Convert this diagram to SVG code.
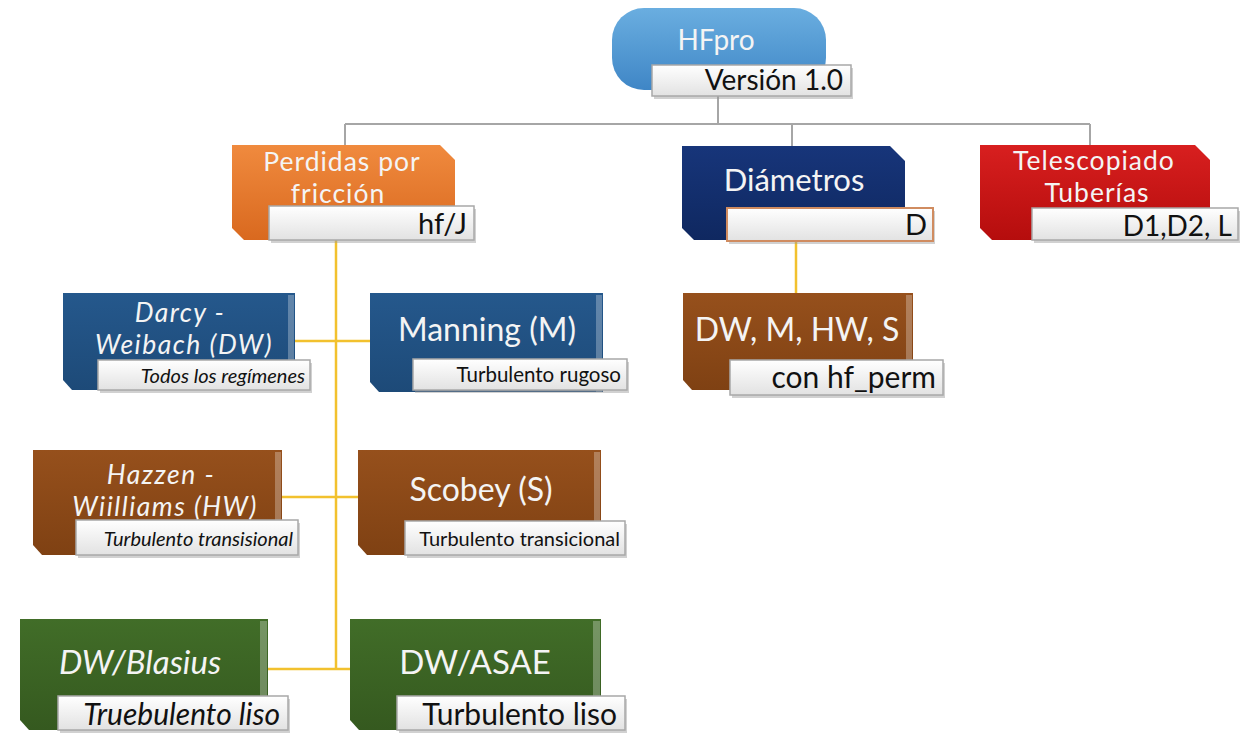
<svg xmlns="http://www.w3.org/2000/svg" width="1243" height="736" viewBox="0 0 1243 736">
<defs>
<linearGradient id="gBlueL" x1="0" y1="0" x2="0" y2="1"><stop offset="0" stop-color="#6aaee0"/><stop offset="1" stop-color="#3f86c6"/></linearGradient>
<linearGradient id="gOrange" x1="0" y1="0" x2="0" y2="1"><stop offset="0" stop-color="#f08a3e"/><stop offset="1" stop-color="#d9691f"/></linearGradient>
<linearGradient id="gNavy" x1="0" y1="0" x2="0" y2="1"><stop offset="0" stop-color="#17357a"/><stop offset="1" stop-color="#0f2860"/></linearGradient>
<linearGradient id="gRed" x1="0" y1="0" x2="0" y2="1"><stop offset="0" stop-color="#d81f1f"/><stop offset="1" stop-color="#b50d0d"/></linearGradient>
<linearGradient id="gBlue" x1="0" y1="0" x2="0" y2="1"><stop offset="0" stop-color="#25588c"/><stop offset="1" stop-color="#1d4a78"/></linearGradient>
<linearGradient id="gBrown" x1="0" y1="0" x2="0" y2="1"><stop offset="0" stop-color="#96501c"/><stop offset="1" stop-color="#7f4113"/></linearGradient>
<linearGradient id="gGreen" x1="0" y1="0" x2="0" y2="1"><stop offset="0" stop-color="#416d28"/><stop offset="1" stop-color="#35591f"/></linearGradient>
<linearGradient id="gLabel" x1="0" y1="0" x2="0" y2="1"><stop offset="0" stop-color="#ffffff"/><stop offset="1" stop-color="#e2e2e2"/></linearGradient>
</defs>
<style>
.lab{fill:url(#gLabel);stroke:#a8a8a8;stroke-width:1.5}
.sh{fill:#9a9a9a;opacity:0.45}
.edge{fill:#ffffff;opacity:0.28}
.t{font-family:Lato,"Open Sans",sans-serif;fill:#f4f4f4;text-anchor:middle}
.s{font-family:Lato,"Open Sans",sans-serif;fill:#111111;text-anchor:end}
.it{font-style:italic}
.grey{stroke:#a6a6a6;stroke-width:2;fill:none}
.yel{stroke:#f2c12e;stroke-width:2.5;fill:none}
</style>
<rect width="1243" height="736" fill="#ffffff"/>
<g id="connectors">
<path class="grey" d="M718 96 V124 M345 124 H1090 M345 124 V146 M792 124 V146 M1090 124 V146"/>
<path class="yel" d="M336 240 V670 M290 341 H372 M282 497 H360 M268 669 H350 M796 241 V293"/>
</g>
<g id="hfpro">
<rect x="612" y="8" width="214" height="82" rx="32" fill="url(#gBlueL)"/>
<text class="t" x="716" y="50" font-size="28">HFpro</text>
<rect class="sh" x="654" y="68" width="199" height="31"/>
<rect class="lab" x="652" y="65" width="199" height="31"/>
<text class="s" x="843" y="90" font-size="28">Versión 1.0</text>
</g>
<g id="perdidas">
<path d="M232 145 H440 L455 160 V240 H244 L232 228 Z" fill="url(#gOrange)"/>
<text class="t" x="342" y="171" font-size="26.5" letter-spacing="1">Perdidas por</text>
<text class="t" x="338" y="203" font-size="26.5" letter-spacing="1">fricción</text>
<rect class="sh" x="271" y="209" width="205" height="34"/>
<rect class="lab" x="269" y="206" width="205" height="34"/>
<text class="s" x="467" y="234" font-size="29">hf/J</text>
</g>
<g id="diametros">
<path d="M682 146 H890 L905 161 V240 H694 L682 228 Z" fill="url(#gNavy)"/>
<text class="t" x="794" y="191" font-size="31">Diámetros</text>
<rect class="sh" x="729" y="211" width="206" height="33"/>
<rect x="727" y="208" width="206" height="33" fill="url(#gLabel)" stroke="#d08c60" stroke-width="2"/>
<text class="s" x="927" y="235" font-size="29">D</text>
</g>
<g id="telescopiado">
<path d="M980 145 H1195 L1210 160 V240 H992 L980 228 Z" fill="url(#gRed)"/>
<text class="t" x="1094" y="170" font-size="26.5" letter-spacing="1">Telescopiado</text>
<text class="t" x="1097" y="202" font-size="26.5" letter-spacing="1">Tuberías</text>
<rect class="sh" x="1034" y="211" width="206" height="32"/>
<rect class="lab" x="1032" y="208" width="206" height="32"/>
<text class="s" x="1232" y="236" font-size="28">D1,D2, L</text>
</g>
<g id="darcy">
<path d="M63 293 H295 V390 H72 L63 380 Z" fill="url(#gBlue)"/>
<rect class="edge" x="288" y="295" width="6" height="95"/>
<text class="t it" x="180" y="322" font-size="26.5" letter-spacing="1.5">Darcy -</text>
<text class="t it" x="184" y="354" font-size="26.5" letter-spacing="1.5">Weibach (DW)</text>
<rect class="sh" x="100" y="363" width="212" height="30"/>
<rect class="lab" x="98" y="360" width="212" height="30"/>
<text class="s it" x="305" y="383" font-size="20">Todos los regímenes</text>
</g>
<g id="manning">
<path d="M370 293 H603 V392 H379 L370 382 Z" fill="url(#gBlue)"/>
<rect class="edge" x="596" y="295" width="6" height="97"/>
<text class="t" x="487" y="341" font-size="32">Manning (M)</text>
<rect class="sh" x="415" y="362" width="214" height="31"/>
<rect class="lab" x="413" y="359" width="214" height="31"/>
<text class="s" x="621" y="382" font-size="20.5">Turbulento rugoso</text>
</g>
<g id="dwmhws">
<path d="M683 293 H913 V390 H692 L683 380 Z" fill="url(#gBrown)"/>
<rect class="edge" x="906" y="295" width="6" height="95"/>
<text class="t" x="797" y="341" font-size="32">DW, M, HW, S</text>
<rect class="sh" x="732" y="363" width="213" height="35"/>
<rect class="lab" x="730" y="360" width="213" height="35"/>
<text class="s" x="936" y="388" font-size="30">con hf_perm</text>
</g>
<g id="hazzen">
<path d="M33 450 H282 V555 H42 L33 545 Z" fill="url(#gBrown)"/>
<rect class="edge" x="275" y="452" width="6" height="103"/>
<text class="t it" x="161" y="484" font-size="26.5" letter-spacing="1.5">Hazzen -</text>
<text class="t it" x="165" y="516" font-size="26.5" letter-spacing="1.5">Wiilliams (HW)</text>
<rect class="sh" x="78" y="523" width="222" height="35"/>
<rect class="lab" x="76" y="520" width="222" height="35"/>
<text class="s it" x="293" y="546" font-size="20">Turbulento transisional</text>
</g>
<g id="scobey">
<path d="M358 450 H601 V555 H367 L358 545 Z" fill="url(#gBrown)"/>
<rect class="edge" x="594" y="452" width="6" height="103"/>
<text class="t" x="481" y="501" font-size="32">Scobey (S)</text>
<rect class="sh" x="407" y="524" width="220" height="34"/>
<rect class="lab" x="405" y="521" width="220" height="34"/>
<text class="s" x="620" y="546" font-size="20">Turbulento transicional</text>
</g>
<g id="blasius">
<path d="M20 619 H268 V730 H29 L20 720 Z" fill="url(#gGreen)"/>
<rect class="edge" x="260" y="621" width="7" height="109"/>
<text class="t it" x="140" y="674" font-size="33">DW/Blasius</text>
<rect class="sh" x="60" y="699" width="230" height="34"/>
<rect class="lab" x="58" y="696" width="230" height="34"/>
<text class="s it" x="280" y="725" font-size="30">Truebulento liso</text>
</g>
<g id="asae">
<path d="M350 619 H601 V730 H359 L350 720 Z" fill="url(#gGreen)"/>
<rect class="edge" x="593" y="621" width="7" height="109"/>
<text class="t" x="475" y="674" font-size="33">DW/ASAE</text>
<rect class="sh" x="399" y="699" width="228" height="34"/>
<rect class="lab" x="397" y="696" width="228" height="34"/>
<text class="s" x="617" y="725" font-size="30">Turbulento liso</text>
</g>
</svg>
